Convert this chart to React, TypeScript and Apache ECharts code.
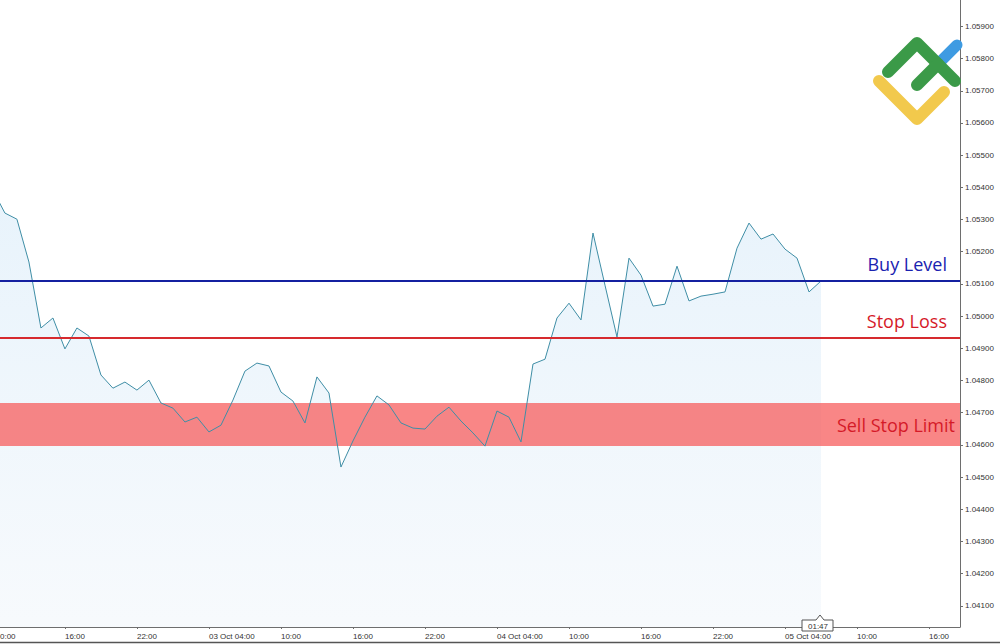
import React, { useEffect, useRef } from "react";
import * as echarts from "echarts";

// Hourly closing prices, starting 02 Oct 10:00 (hours counted from 02 Oct 00:00)
const startHour = 10;
const prices = [
  1.05391, 1.0532, 1.05301, 1.05168, 1.04963, 1.04994, 1.04898, 1.04963, 1.04938, 1.04817,
  1.04776, 1.04795, 1.0477, 1.04801, 1.0473, 1.04714, 1.04671, 1.04686, 1.0464, 1.04661,
  1.04739, 1.04829, 1.04854, 1.04845, 1.04764, 1.04736, 1.04668, 1.04811, 1.04761, 1.04531,
  1.04612, 1.04686, 1.04752, 1.04724, 1.04668, 1.04652, 1.04649, 1.04689, 1.04717, 1.04674,
  1.04637, 1.04596, 1.04705, 1.04686, 1.04609, 1.04851, 1.04866, 1.04994, 1.0504, 1.04988,
  1.05258, 1.05096, 1.04935, 1.0518, 1.05127, 1.05031, 1.05037, 1.05155, 1.05047, 1.05062,
  1.05068, 1.05075, 1.05211, 1.05289, 1.05239, 1.05255, 1.05208, 1.0518, 1.05075, 1.05109,
];

const buyLevel = 1.05109;
const stopLoss = 1.04932;
const sellStopLimit = [1.0473, 1.04596];

const yTicks = [
  1.041, 1.042, 1.043, 1.044, 1.045, 1.046, 1.047, 1.048, 1.049, 1.05,
  1.051, 1.052, 1.053, 1.054, 1.055, 1.056, 1.057, 1.058, 1.059,
];
const xTickHours = [16, 22, 28, 34, 40, 46, 52, 58, 64, 70, 76, 82, 88];
const xTickLabels = [
  "16:00", "22:00", "03 Oct 04:00", "10:00", "16:00", "22:00", "04 Oct 04:00",
  "10:00", "16:00", "22:00", "05 Oct 04:00", "10:00", "16:00",
];

const xMin = 10.59;
const xMax = 90.58;
const yMin = 1.04034;
const yMax = 1.05982;

const labelFont = "Liberation Sans";
const noteFont = "Open Sans";

export default function App() {
  const ref = useRef<HTMLDivElement>(null);

  useEffect(() => {
    if (!ref.current) return;
    const chart = echarts.init(ref.current, undefined, { renderer: "svg" });
    const data = prices.map((p, i) => [startHour + i, p]);

    const option: any = {
      animation: false,
      backgroundColor: "#ffffff",
      grid: { left: 0, right: 40, top: 0, bottom: 17, containLabel: false, outerBoundsMode: "none" },
      xAxis: {
        type: "value",
        min: xMin,
        max: xMax,
        splitLine: { show: false },
        axisLine: { show: true, lineStyle: { color: "#6e6e6e", width: 1 } },
        axisTick: {
          show: true,
          length: 2,
          customValues: xTickHours,
          lineStyle: { color: "#6e6e6e" },
        },
        axisLabel: {
          customValues: xTickHours,
          formatter: (v: number) => {
            const i = xTickHours.indexOf(Math.round(v));
            return i >= 0 ? xTickLabels[i] : "";
          },
          align: "left",
          margin: 5,
          fontSize: 8,
          fontFamily: labelFont,
          color: "#333333",
        },
      },
      yAxis: {
        type: "value",
        position: "right",
        min: yMin,
        max: yMax,
        splitLine: { show: false },
        axisLine: { show: true, lineStyle: { color: "#6e6e6e", width: 1 } },
        axisTick: {
          show: true,
          length: 3,
          customValues: yTicks,
          lineStyle: { color: "#6e6e6e" },
        },
        axisLabel: {
          customValues: yTicks,
          formatter: (v: number) => v.toFixed(5),
          margin: 5,
          fontSize: 8,
          fontFamily: labelFont,
          color: "#333333",
        },
      },
      series: [
        {
          // area fill only
          type: "line",
          data,
          showSymbol: false,
          symbol: "none",
          silent: true,
          lineStyle: { width: 0, opacity: 0 },
          areaStyle: {
            origin: "start",
            color: new echarts.graphic.LinearGradient(0, 0, 0, 1, [
              { offset: 0, color: "#deeefa" },
              { offset: 1, color: "#f4f8fc" },
            ]),
          },
          z: 2,
        },
        {
          // sell stop limit band
          type: "line",
          data: [],
          z: 3,
          markArea: {
            silent: true,
            z: 3,
            itemStyle: { color: "rgba(246,88,88,0.72)" },
            label: {
              show: true,
              position: "insideRight",
              distance: 5,
              color: "#d51a28",
              fontSize: 18,
              fontFamily: noteFont,
            },
            data: [[{ yAxis: sellStopLimit[0], name: "Sell Stop Limit" }, { yAxis: sellStopLimit[1] }]],
          },
        },
        {
          // price line and levels
          type: "line",
          data,
          showSymbol: false,
          symbol: "none",
          lineStyle: { color: "#3f8ea6", width: 1 },
          z: 4,
          markLine: {
            silent: true,
            z: 5,
            precision: 5,
            symbol: ["none", "none"],
            data: [
              {
                yAxis: buyLevel,
                name: "Buy Level",
                lineStyle: { color: "#1420a0", width: 2, type: "solid" },
                label: {
                  show: true,
                  formatter: "Buy Level",
                  position: "insideEndTop",
                  distance: [13, 8],
                  color: "#1a22b0",
                  fontSize: 18,
                  fontFamily: noteFont,
                },
              },
              {
                yAxis: stopLoss,
                name: "Stop Loss",
                lineStyle: { color: "#d62a2e", width: 2, type: "solid" },
                label: {
                  show: true,
                  formatter: "Stop Loss",
                  position: "insideEndTop",
                  distance: [13, 8],
                  color: "#d51a28",
                  fontSize: 18,
                  fontFamily: noteFont,
                },
              },
            ],
          },
        },
      ],
      graphic: [
        {
          type: "text",
          x: 0,
          y: 636,
          style: {
            text: "0:00",
            fontSize: 8,
            fontFamily: labelFont,
            fill: "#333333",
            verticalAlign: "middle",
          },
        },
        {
          type: "polygon",
          shape: {
            points: [
              [802, 620], [816, 620], [820, 615], [824, 620],
              [833, 620], [833, 631], [802, 631],
            ],
          },
          style: { fill: "#ffffff", stroke: "#555555", lineWidth: 1 },
          z: 10,
        },
        {
          type: "text",
          x: 818,
          y: 626,
          style: {
            text: "01:47",
            fontSize: 8,
            fontFamily: labelFont,
            fill: "#333333",
            align: "center",
            verticalAlign: "middle",
          },
          z: 11,
        },
        {
          type: "line",
          shape: { x1: 0, y1: 642.5, x2: 1000, y2: 642.5 },
          style: { stroke: "#555555", lineWidth: 1.5 },
          z: 10,
        },
        // logo
        {
          type: "polyline",
          shape: { points: [[938, 64], [957, 45]] },
          style: { stroke: "#3e9be2", lineWidth: 11, lineCap: "round", fill: null },
          z: 20,
        },
        {
          type: "polyline",
          shape: { points: [[879, 81], [917, 119], [944, 92]] },
          style: { stroke: "#f2c94c", lineWidth: 12, lineCap: "round", lineJoin: "round", fill: null },
          z: 20,
        },
        {
          type: "polyline",
          shape: { points: [[888, 72], [917, 43], [955, 81]] },
          style: { stroke: "#3b9a48", lineWidth: 12, lineCap: "round", lineJoin: "round", fill: null },
          z: 21,
        },
        {
          type: "polyline",
          shape: { points: [[917, 85], [938, 64]] },
          style: { stroke: "#3b9a48", lineWidth: 12, lineCap: "round", fill: null },
          z: 21,
        },
      ],
    };

    chart.setOption(option);
    return () => chart.dispose();
  }, []);

  return (
    <div
      ref={ref}
      style={{ position: "fixed", left: 0, top: 0, width: 1000, height: 644, background: "#fff" }}
    />
  );
}
